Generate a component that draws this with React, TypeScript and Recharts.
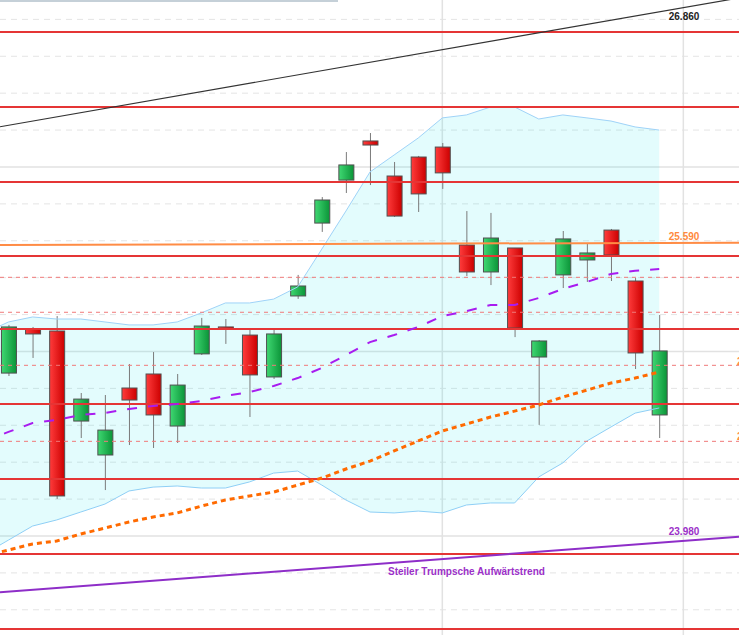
import React from 'react';
import {
  ComposedChart,
  XAxis,
  YAxis,
  Bar,
  Line,
  Area,
  CartesianGrid,
  ReferenceLine,
  ReferenceDot,
} from 'recharts';

// candle index (0 = first visible session)
const candleIndex = [0, 1, 2, 3, 4, 5, 6, 7, 8, 9, 10, 11, 12, 13, 14, 15, 16, 17, 18, 19, 20, 21, 22, 23, 24, 25, 26, 27];
const opens = [24.883, 25.122, 25.111, 24.623, 24.439, 24.802, 24.878, 24.596, 24.987, 25.133, 25.089, 24.862, 25.301, 25.696, 25.929, 26.141, 25.951, 26.054, 26.108, 25.577, 25.431, 25.561, 24.970, 25.415, 25.496, 25.658, 25.382, 24.656];
const highs = [25.144, 25.133, 25.192, 24.775, 24.764, 24.932, 24.997, 24.878, 25.182, 25.176, 25.117, 25.117, 25.415, 25.837, 26.081, 26.184, 26.027, 26.060, 26.130, 25.761, 25.751, 25.561, 25.062, 25.653, 25.583, 25.664, 25.398, 25.198];
const lows = [24.867, 24.965, 24.201, 24.531, 24.249, 24.493, 24.477, 24.504, 24.981, 25.041, 24.645, 24.851, 25.285, 25.648, 25.859, 25.902, 25.729, 25.756, 25.881, 25.409, 25.360, 25.078, 24.602, 25.344, 25.377, 25.382, 24.905, 24.531];
const closes = [25.133, 25.095, 24.217, 24.742, 24.574, 24.737, 24.656, 24.818, 25.138, 25.122, 24.873, 25.095, 25.355, 25.821, 26.011, 26.119, 25.734, 25.854, 25.968, 25.431, 25.615, 25.127, 25.057, 25.610, 25.534, 25.523, 24.992, 25.003];

// indicators start one session before the first visible candle
const bandIndex = [-1, 0, 1, 2, 3, 4, 5, 6, 7, 8, 9, 10, 11, 12, 13, 14, 15, 16, 17, 18, 19, 20, 21, 22, 23, 24, 25, 26, 27];
const upperBand = [25.100, 25.160, 25.187, 25.176, 25.176, 25.160, 25.144, 25.144, 25.160, 25.209, 25.263, 25.263, 25.284, 25.350, 25.555, 25.761, 25.973, 26.065, 26.157, 26.266, 26.282, 26.325, 26.325, 26.260, 26.282, 26.266, 26.249, 26.217, 26.200];
const lowerBand = [23.902, 23.978, 24.054, 24.087, 24.130, 24.173, 24.244, 24.265, 24.271, 24.260, 24.260, 24.293, 24.341, 24.352, 24.276, 24.195, 24.130, 24.125, 24.135, 24.125, 24.168, 24.179, 24.179, 24.320, 24.396, 24.515, 24.591, 24.666, 24.694];
const maPurple = [24.515, 24.564, 24.612, 24.629, 24.656, 24.667, 24.688, 24.705, 24.715, 24.732, 24.759, 24.780, 24.813, 24.856, 24.911, 24.981, 25.051, 25.089, 25.133, 25.192, 25.219, 25.252, 25.252, 25.290, 25.339, 25.377, 25.420, 25.438, 25.447];
const maOrange = [23.892, 23.924, 23.957, 23.973, 24.011, 24.043, 24.076, 24.103, 24.125, 24.162, 24.195, 24.217, 24.238, 24.276, 24.314, 24.363, 24.406, 24.461, 24.515, 24.569, 24.607, 24.645, 24.677, 24.710, 24.753, 24.791, 24.829, 24.856, 24.889];

const redLevels = [26.732, 26.325, 25.919, 25.518, 25.122, 24.715, 24.309, 23.902, 23.496];
const redDashedLevels = [25.402, 25.2125, 24.925, 24.513];
const gridLevels = [26.8, 26.6, 26.4, 26.2, 25.8, 25.6, 25.4, 25.2, 24.8, 24.6, 24.4, 24.2, 23.8, 23.6];
const gridMajor = [26.0, 25.0, 24.0];
const monthLines = [18, 28];

const X_DOMAIN: [number, number] = [-0.353, 30.31];
const Y_DOMAIN: [number, number] = [23.4634, 26.905];

const data = bandIndex.map((i, k) => {
  const ci = candleIndex.indexOf(i);
  return {
    i,
    ub: upperBand[k],
    lb: lowerBand[k],
    band: [lowerBand[k], upperBand[k]],
    maP: maPurple[k],
    maO: maOrange[k],
    o: ci >= 0 ? opens[ci] : null,
    h: ci >= 0 ? highs[ci] : null,
    l: ci >= 0 ? lows[ci] : null,
    c: ci >= 0 ? closes[ci] : null,
  };
});

const Candle = (props: any) => {
  const { x, width, payload } = props;
  let { y, height } = props;
  if (!payload || payload.o == null) return null;
  if (height < 0) {
    y += height;
    height = -height;
  }
  const { o, h, l, c } = payload;
  const span = h - l || 1;
  const py = (v: number) => y + ((h - v) / span) * height;
  const cx = x + width / 2;
  const up = c >= o;
  const top = py(Math.max(o, c));
  const bot = py(Math.min(o, c));
  const bw = 15;
  return (
    <g>
      <line x1={cx} x2={cx} y1={y} y2={y + height} stroke="#7a7a7a" strokeWidth={1} />
      <rect
        x={cx - bw / 2}
        y={top}
        width={bw}
        height={Math.max(bot - top, 2)}
        fill={up ? 'url(#candleUp)' : 'url(#candleDown)'}
        stroke="#505050"
        strokeWidth={1}
      />
    </g>
  );
};

const textAt = (label: string, color: string, anchor: string = 'middle') => (p: any) => (
  <text
    x={p.cx}
    y={p.cy}
    textAnchor={anchor}
    dominantBaseline="central"
    fill={color}
    fontSize={10}
    fontWeight="bold"
    fontFamily="Liberation Sans, Arial, sans-serif"
  >
    {label}
  </text>
);

export default function App() {
  return (
    <div style={{ position: 'absolute', top: 0, left: 0, width: 739, height: 635, overflow: 'hidden', background: '#fff' }}>
      <ComposedChart width={739} height={635} data={data} margin={{ top: 0, right: 0, bottom: 0, left: 0 }}>
        <defs>
          <linearGradient id="candleUp" x1="0" y1="0" x2="1" y2="0">
            <stop offset="0%" stopColor="#3fd872" />
            <stop offset="100%" stopColor="#0b9438" />
          </linearGradient>
          <linearGradient id="candleDown" x1="0" y1="0" x2="1" y2="0">
            <stop offset="0%" stopColor="#ff3c3c" />
            <stop offset="100%" stopColor="#cc0000" />
          </linearGradient>
        </defs>
        <XAxis type="number" dataKey="i" domain={X_DOMAIN} hide allowDataOverflow />
        <YAxis type="number" domain={Y_DOMAIN} hide allowDataOverflow />

        <CartesianGrid horizontalValues={gridLevels} vertical={false} stroke="#e4e4e4" strokeDasharray="6 5" />
        <CartesianGrid horizontalValues={gridMajor} verticalValues={monthLines} stroke="#e2e2e2" strokeWidth={1.5} />

        <Area dataKey="band" fill="#00e8f0" fillOpacity={0.11} stroke="none" isAnimationActive={false} />
        <Line dataKey="ub" stroke="#9fd3f8" strokeWidth={1} dot={false} isAnimationActive={false} />
        <Line dataKey="lb" stroke="#8fcff6" strokeWidth={1} dot={false} isAnimationActive={false} />

        <Bar
          dataKey={(d: any) => (d.o == null ? null : [d.l, d.h])}
          barSize={15}
          shape={<Candle />}
          isAnimationActive={false}
        />

        {redDashedLevels.map((v) => (
          <ReferenceLine key={'rd' + v} y={v} stroke="#f07a7a" strokeDasharray="4 4" />
        ))}
        {redLevels.map((v) => (
          <ReferenceLine key={'r' + v} y={v} stroke="#e53535" strokeWidth={2} />
        ))}

        <ReferenceLine
          segment={[{ x: X_DOMAIN[0], y: 25.577 }, { x: X_DOMAIN[1], y: 25.59 }]}
          stroke="#ff8c45"
          strokeWidth={2}
          ifOverflow="visible"
        />
        <ReferenceLine
          segment={[{ x: X_DOMAIN[0], y: 26.218 }, { x: X_DOMAIN[1], y: 26.916 }]}
          stroke="#333"
          strokeWidth={1.2}
          ifOverflow="visible"
        />
        <ReferenceLine
          segment={[{ x: X_DOMAIN[0], y: 23.695 }, { x: X_DOMAIN[1], y: 23.996 }]}
          stroke="#8e2ec8"
          strokeWidth={2}
          ifOverflow="visible"
        />

        <Line dataKey="maP" stroke="#a81cf0" strokeWidth={2} strokeDasharray="10 11" dot={false} isAnimationActive={false} />
        <Line dataKey="maO" stroke="#ff6a00" strokeWidth={3} strokeDasharray="5 4" dot={false} isAnimationActive={false} />

        <ReferenceDot x={28.03} y={26.816} r={0} ifOverflow="visible" shape={textAt('26.860', '#222')} />
        <ReferenceDot x={28.03} y={25.623} r={0} ifOverflow="visible" shape={textAt('25.590', '#ff8a3d')} />
        <ReferenceDot x={28.03} y={24.024} r={0} ifOverflow="visible" shape={textAt('23.980', '#9b30c8')} />
        <ReferenceDot x={19.0} y={23.807} r={0} ifOverflow="visible" shape={textAt('Steiler Trumpsche Aufwärtstrend', '#9b30c8')} />
        <ReferenceDot x={30.23} y={24.945} r={0} ifOverflow="visible" shape={textAt('24.930', '#ff8a3d', 'start')} />
        <ReferenceDot x={30.23} y={24.538} r={0} ifOverflow="visible" shape={textAt('24.510', '#ff8a3d', 'start')} />
      </ComposedChart>
      <div style={{ position: 'absolute', top: 0, left: 0, width: 338, height: 2, background: '#c5d0d8' }} />
    </div>
  );
}
